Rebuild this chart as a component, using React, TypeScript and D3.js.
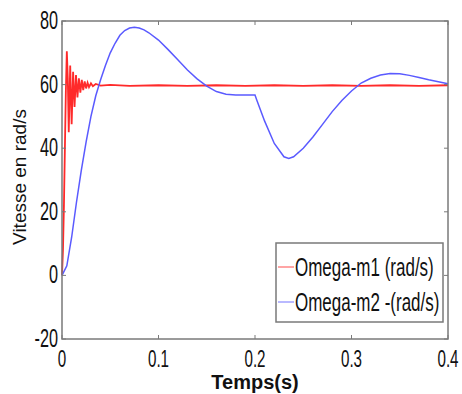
import React, { useEffect, useRef } from "react";
import * as d3 from "d3";

// Omega-m2 (blue), values
const blueT = [0, 0.005, 0.01, 0.015, 0.02, 0.025, 0.03, 0.035, 0.04, 0.045, 0.05, 0.055, 0.06, 0.065, 0.07, 0.075, 0.08, 0.085, 0.09, 0.1, 0.11, 0.12, 0.13, 0.14, 0.15, 0.16, 0.17, 0.18, 0.19, 0.2, 0.202, 0.21, 0.22, 0.23, 0.235, 0.24, 0.25, 0.26, 0.27, 0.28, 0.29, 0.3, 0.31, 0.32, 0.33, 0.34, 0.35, 0.36, 0.37, 0.38, 0.39, 0.4];
const blueV = [0, 3, 12, 23, 33, 42, 50, 56.5, 61.5, 66, 70, 73, 75.5, 77, 77.8, 78, 77.8, 77.2, 76.3, 74, 71, 67.8, 64.6, 61.8, 59.5, 57.8, 57, 56.7, 56.7, 56.7, 55, 48.5, 41.5, 37.3, 36.8, 37.3, 40, 43.5, 47.5, 51.5, 55, 58, 60.5, 62, 63, 63.5, 63.4, 62.9, 62.2, 61.5, 60.9, 60.3];

// Omega-m1 (red)
const redT = [0, 0.001, 0.002, 0.003, 0.004, 0.005, 0.006, 0.007, 0.0085, 0.01, 0.0115, 0.013, 0.0145, 0.016, 0.0175, 0.019, 0.0205, 0.022, 0.0235, 0.025, 0.0265, 0.028, 0.03, 0.032, 0.035, 0.04, 0.05, 0.07, 0.1, 0.13, 0.16, 0.19, 0.22, 0.25, 0.28, 0.31, 0.34, 0.37, 0.4];
const redV = [0, 8, 22, 40, 58, 70.5, 62, 45, 66, 47.5, 64, 53, 63, 56, 62, 57.5, 61.5, 58.3, 61, 58.8, 60.6, 59.2, 60.4, 59.5, 60.2, 59.7, 59.9, 59.6, 59.8, 59.6, 59.8, 59.6, 59.8, 59.6, 59.8, 59.6, 59.8, 59.6, 59.8];

const xTicks = [0, 0.1, 0.2, 0.3, 0.4];
const yTicks = [-20, 0, 20, 40, 60, 80];
const seriesNames = ["Omega-m1 (rad/s)", "Omega-m2 -(rad/s)"];
const seriesColors = ["#ff2a2a", "#5a5aff"];

const App = () => {
  const ref = useRef<SVGSVGElement>(null);

  useEffect(() => {
    const svg = d3.select(ref.current);
    svg.selectAll("*").remove();

    const left = 62, right = 448, top = 21, bottom = 339;
    const x = d3.scaleLinear().domain([0, 0.4]).range([left, right]);
    const y = d3.scaleLinear().domain([-20, 80]).range([bottom, top]);
    const axisColor = "#7a7a7a";
    const font = "'Liberation Sans', Arial, sans-serif";

    // data lines
    const line = d3.line<[number, number]>().x((d) => x(d[0])).y((d) => y(d[1]));
    svg.append("path")
      .attr("d", line(redT.map((t, i) => [t, redV[i]])))
      .attr("fill", "none")
      .attr("stroke", seriesColors[0])
      .attr("stroke-width", 1.8);
    svg.append("path")
      .attr("d", line(blueT.map((t, i) => [t, blueV[i]])))
      .attr("fill", "none")
      .attr("stroke", seriesColors[1])
      .attr("stroke-width", 1.5);

    // box
    svg.append("rect")
      .attr("x", left).attr("y", top)
      .attr("width", right - left).attr("height", bottom - top)
      .attr("fill", "none")
      .attr("stroke", axisColor)
      .attr("stroke-width", 1.5);

    // ticks, mirrored on every side
    xTicks.forEach((t) => {
      svg.append("line").attr("x1", x(t)).attr("x2", x(t)).attr("y1", bottom).attr("y2", bottom - 4)
        .attr("stroke", axisColor);
      svg.append("line").attr("x1", x(t)).attr("x2", x(t)).attr("y1", top).attr("y2", top + 4)
        .attr("stroke", axisColor);
      svg.append("text")
        .attr("transform", `translate(${x(t)},${bottom + 28}) scale(0.66,1)`)
        .attr("text-anchor", "middle")
        .attr("font-family", font)
        .attr("font-size", 23)
        .attr("fill", "#111")
        .text(String(t));
    });
    yTicks.forEach((v) => {
      svg.append("line").attr("x1", left).attr("x2", left + 4).attr("y1", y(v)).attr("y2", y(v))
        .attr("stroke", axisColor);
      svg.append("line").attr("x1", right).attr("x2", right - 4).attr("y1", y(v)).attr("y2", y(v))
        .attr("stroke", axisColor);
      svg.append("text")
        .attr("transform", `translate(${left - 4},${y(v) + 8}) scale(0.65,1)`)
        .attr("text-anchor", "end")
        .attr("font-family", font)
        .attr("font-size", 25)
        .attr("fill", "#111")
        .text(String(v));
    });

    // axis titles
    svg.append("text")
      .attr("x", 255).attr("y", 389)
      .attr("text-anchor", "middle")
      .attr("font-family", font)
      .attr("font-weight", "bold")
      .attr("font-size", 20)
      .attr("fill", "#111")
      .text("Temps(s)");
    svg.append("text")
      .attr("transform", "translate(26,177) rotate(-90)")
      .attr("text-anchor", "middle")
      .attr("font-family", font)
      .attr("font-size", 19)
      .attr("fill", "#111")
      .text("Vitesse en rad/s");

    // legend
    const legend = svg.append("g");
    legend.append("rect")
      .attr("x", 276).attr("y", 243).attr("width", 167).attr("height", 79)
      .attr("fill", "#fff")
      .attr("stroke", axisColor)
      .attr("stroke-width", 1.5);
    seriesNames.forEach((name, i) => {
      const yy = 267 + i * 35;
      legend.append("line")
        .attr("x1", 278).attr("x2", 294).attr("y1", yy).attr("y2", yy)
        .attr("stroke", seriesColors[i])
        .attr("stroke-width", 1.2)
        .attr("opacity", 0.7);
      legend.append("text")
        .attr("transform", `translate(295,${yy + 9}) scale(0.68,1)`)
        .attr("font-family", font)
        .attr("font-size", 25)
        .attr("fill", "#111")
        .text(name);
    });
  }, []);

  return (
    <svg
      ref={ref}
      width={462}
      height={394}
      style={{ position: "absolute", left: 0, top: 0, background: "#fff" }}
    />
  );
};

export default App;
